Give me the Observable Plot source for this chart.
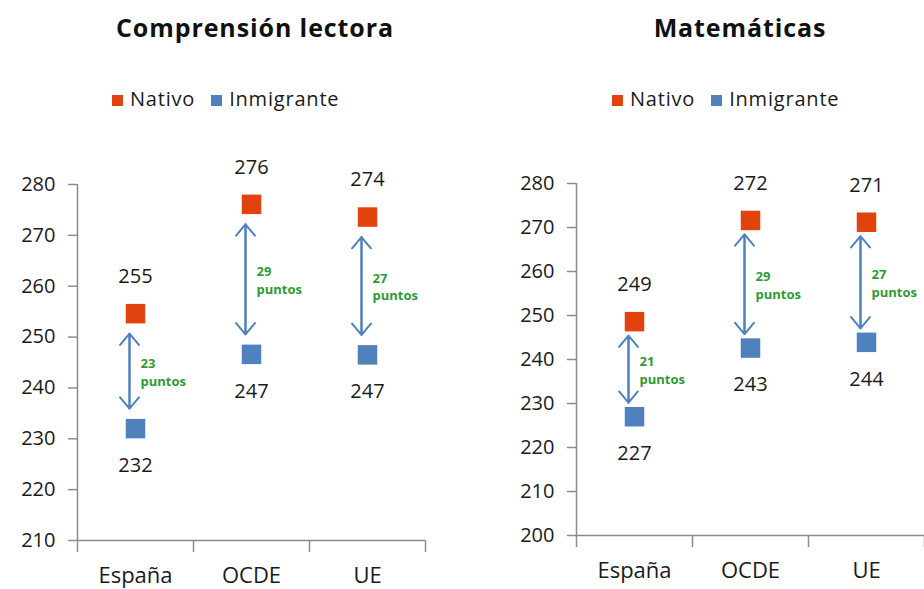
<!DOCTYPE html>
<html>
<head>
<meta charset="utf-8">
<script src="https://cdn.jsdelivr.net/npm/d3@7"></script>
<script src="https://cdn.jsdelivr.net/npm/@observablehq/plot@0.6"></script>
<style>
  html, body { margin: 0; padding: 0; background: #fff; }
  #wrap { position: relative; width: 924px; height: 589px; overflow: hidden; font-family: "Open Sans", sans-serif; color: #1a1a1a; }
  .title { position: absolute; top: 10px; font-weight: bold; font-size: 25px; text-align: center; width: 400px; color: #111; letter-spacing: 0.9px; }
  .legend { position: absolute; top: 85px; font-size: 20px; display: flex; align-items: center; white-space: nowrap; letter-spacing: 0.8px; }
  .legend .sw { display: inline-block; width: 11px; height: 11px; margin-right: 7px; margin-top: 3px; }
  .legend .item { display: flex; align-items: center; margin-right: 16px; }
  .panel { position: absolute; top: 140px; }
</style>
</head>
<body>
<div id="wrap">
  <div class="title" style="left:55px">Comprensión lectora</div>
  <div class="title" style="left:540px">Matemáticas</div>
  <div class="legend" id="legL" style="left:112px"></div>
  <div class="legend" id="legR" style="left:612px"></div>
  <div class="panel" id="pL" style="left:0px"></div>
  <div class="panel" id="pR" style="left:462px"></div>
</div>
<script>
const categories = ["España", "OCDE", "UE"];
const seriesNames = ["Nativo", "Inmigrante"];
const seriesColors = ["#e2420d", "#4f81bd"];

const readingNative = [254.6, 276.1, 273.6];
const readingImmigrant = [232.0, 246.6, 246.5];
const readingGap = [23, 29, 27];

const mathNative = [248.6, 271.6, 271.2];
const mathImmigrant = [227.0, 242.6, 243.9];
const mathGap = [21, 29, 27];

const readingTicks = [210, 220, 230, 240, 250, 260, 270, 280];
const mathTicks = [200, 210, 220, 230, 240, 250, 260, 270, 280];

function legend(el) {
  seriesNames.forEach((n, i) => {
    const item = document.createElement("span");
    item.className = "item";
    const sw = document.createElement("span");
    sw.className = "sw";
    sw.style.background = seriesColors[i];
    item.appendChild(sw);
    item.appendChild(document.createTextNode(n));
    el.appendChild(item);
  });
}
legend(document.getElementById("legL"));
legend(document.getElementById("legR"));

function panel(native, immigrant, gap, ticks, opts) {
  const rows = categories.map((c, i) => ({
    cat: c, xc: i + 0.5, native: native[i], imm: immigrant[i], gap: gap[i]
  }));
  const axisColor = "#8c8c8c";
  const arrowOpts = { dx: -6, insetStart: opts.inset, insetEnd: opts.inset, stroke: seriesColors[1], strokeWidth: 2, headLength: 11, headAngle: 80, bend: 0 };
  return Plot.plot({
    width: 462,
    height: 449,
    marginLeft: opts.marginLeft,
    marginRight: opts.marginRight,
    marginTop: opts.marginTop,
    marginBottom: opts.marginBottom,
    x: { domain: [0, categories.length], axis: null },
    y: { domain: [ticks[0], ticks[ticks.length - 1]], axis: null },
    style: { fontFamily: "Open Sans, sans-serif", color: "#1a1a1a", background: "transparent", overflow: "hidden" },
    marks: [
      Plot.axisY({ ticks, label: null, tickSize: 9, tickPadding: 13, stroke: axisColor, fill: "#1a1a1a", fontSize: 20, strokeWidth: 1.5 }),
      Plot.axisX({ ticks: d3.range(0, categories.length + 1), label: null, tickSize: 12, tickFormat: () => "", stroke: axisColor, strokeWidth: 1.5 }),
      Plot.axisX({ ticks: rows.map(d => d.xc), label: null, tickSize: 0, tickPadding: 27, tickFormat: (d) => categories[Math.floor(d)], fill: "#1a1a1a", fontSize: 22 }),
      Plot.ruleX([0], { stroke: axisColor, strokeWidth: 1.5 }),
      Plot.ruleY([ticks[0]], { stroke: axisColor, strokeWidth: 1.5 }),
      Plot.arrow(rows, { x1: "xc", x2: "xc", y1: "imm", y2: "native", ...arrowOpts }),
      Plot.arrow(rows, { x1: "xc", x2: "xc", y1: "native", y2: "imm", ...arrowOpts }),
      Plot.dot(rows, { x: "xc", y: "native", symbol: "square", r: 11, fill: seriesColors[0] }),
      Plot.dot(rows, { x: "xc", y: "imm", symbol: "square", r: 11, fill: seriesColors[1] }),
      Plot.text(rows, { x: "xc", y: "native", text: d => String(Math.round(d.native)), dy: -37, fontSize: 20, fill: "#1a1a1a" }),
      Plot.text(rows, { x: "xc", y: "imm", text: d => String(Math.round(d.imm)), dy: 37, fontSize: 20, fill: "#1a1a1a" }),
      Plot.text(rows, { x: "xc", y: d => (d.native + d.imm) / 2, text: d => `${d.gap}\npuntos`, dx: 5, textAnchor: "start", fontSize: 13, fontWeight: "bold", fill: "#2e9a35", lineHeight: 1.35 })
    ]
  });
}

document.getElementById("pL").appendChild(panel(readingNative, readingImmigrant, readingGap, readingTicks,
  { marginLeft: 77, marginRight: 37, marginTop: 44, marginBottom: 49, inset: 20 }));
document.getElementById("pR").appendChild(panel(mathNative, mathImmigrant, mathGap, mathTicks,
  { marginLeft: 114, marginRight: 0, marginTop: 43, marginBottom: 54, inset: 14 }));
</script>
</body>
</html>
